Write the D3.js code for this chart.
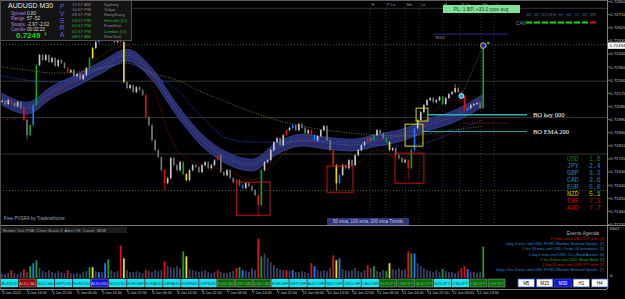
<!DOCTYPE html>
<html>
<head>
<meta charset="utf-8">
<script src="https://cdn.jsdelivr.net/npm/d3@7"></script>
<style>
body { margin: 0; background: #000; }
svg { display: block; font-family: "Liberation Sans", "DejaVu Sans", sans-serif; }
</style>
</head>
<body>
<svg id="chart" width="625" height="299"></svg>
<script>
// ---- data ----
const closes = [
  0.72113, 0.72093, 0.72120, 0.72099, 0.72079, 0.72106, 0.72065, 0.71983, 0.71880, 0.71948,
  0.72086, 0.72360, 0.72429, 0.72395, 0.72429, 0.72381, 0.72409, 0.72354, 0.72395, 0.72374,
  0.72340, 0.72312, 0.72326, 0.72285, 0.72299, 0.72264, 0.72292, 0.72340, 0.72409, 0.72477,
  0.72518, 0.72532, 0.72546, 0.72560, 0.72532, 0.72546, 0.72518, 0.72532, 0.72518, 0.72244,
  0.72202, 0.72223, 0.72175, 0.72209, 0.72189, 0.72154, 0.72003, 0.71948, 0.71845, 0.71777,
  0.71729, 0.71639, 0.71550, 0.71584, 0.71722, 0.71674, 0.71639, 0.71694, 0.71612, 0.71571,
  0.71639, 0.71674, 0.71660, 0.71626, 0.71674, 0.71694, 0.71653, 0.71674, 0.71708, 0.71742,
  0.71626, 0.71605, 0.71639, 0.71584, 0.71557, 0.71571, 0.71536, 0.71516, 0.71550, 0.71529,
  0.71502, 0.71468, 0.71399, 0.71639, 0.71694, 0.71708, 0.71777, 0.71832, 0.71859, 0.71811,
  0.71880, 0.71914, 0.71928, 0.71948, 0.71914, 0.71955, 0.71928, 0.71893, 0.71914, 0.71880,
  0.71845, 0.71873, 0.71914, 0.71941, 0.71845, 0.71777, 0.71674, 0.71550, 0.71605, 0.71674,
  0.71653, 0.71708, 0.71674, 0.71742, 0.71777, 0.71811, 0.71832, 0.71859, 0.71845, 0.71880,
  0.71914, 0.71893, 0.71859, 0.71832, 0.71777, 0.71790, 0.71742, 0.71722, 0.71694, 0.71708,
  0.71653, 0.71777, 0.71928, 0.71983, 0.72038, 0.72086, 0.72120, 0.72134, 0.72106, 0.72120,
  0.72141, 0.72093, 0.72134, 0.72161, 0.72175, 0.72202, 0.72175, 0.72148, 0.72051, 0.72065,
  0.72086, 0.72093, 0.72099, 0.72065, 0.72494
]
const highWicks = [[32, 0.72574], [38, 0.72546], [131, 0.71790], [145, 0.72230], [154, 0.72520]]
const lowWicks = [[8, 0.71845], [52, 0.71502], [82, 0.71317], [107, 0.71502], [130, 0.71570]]

const volumes = [
  520, 520, 650, 1040, 650, 520, 780, 1170, 780, 1560,
  1950, 2340, 1300, 910, 780, 1040, 780, 650, 910, 780,
  650, 1040, 650, 520, 650, 520, 780, 910, 1430, 1430,
  910, 780, 780, 1950, 2470, 1040, 780, 910, 4290, 2600,
  1040, 780, 780, 910, 780, 650, 1040, 910, 780, 1040,
  910, 1040, 2210, 1560, 1430, 1300, 1560, 1300, 3510, 2860,
  1170, 1040, 910, 780, 910, 1040, 780, 650, 780, 1040,
  780, 650, 650, 780, 910, 1300, 1430, 1040, 910, 780,
  1300, 1040, 5200, 2860, 3250, 2600, 2080, 1690, 1300, 1170,
  1040, 1040, 910, 1040, 780, 780, 910, 780, 650, 1950,
  1560, 1040, 910, 1040, 910, 1300, 2990, 2340, 2600, 1170,
  1040, 910, 1040, 1300, 910, 780, 1040, 1690, 1300, 1560,
  910, 780, 1040, 910, 1950, 1170, 1040, 1300, 1040, 1170,
  3510, 3250, 3250, 1950, 1560, 1300, 1040, 910, 780, 1040,
  780, 1170, 910, 780, 780, 650, 910, 1300, 1560, 1170,
  780, 780, 650, 780, 4160
]
const redBars = [3, 7, 21, 38, 46, 52, 69, 75, 82, 91, 99, 106, 117, 130, 147, 148]
const greenBars = [9, 11, 28, 34, 58, 76, 83, 119, 123, 131, 141, 154]
const blueBars = [10, 31, 33, 77, 93, 100, 108, 132, 149]
const yellowBars = [29, 39, 59, 107, 124]

// moving averages sampled every 16 bars (M30 bars)
const maBars = [0, 16, 32, 48, 64, 80, 96, 112, 128, 144, 160, 176, 192, 208, 224, 240, 256, 272, 288, 304, 308]
const ema50Band = [0.72127, 0.72065, 0.72175, 0.72257, 0.72347, 0.72429, 0.72299, 0.72051, 0.71845, 0.71722,
  0.71674, 0.71790, 0.71845, 0.71825, 0.71811, 0.71845, 0.71880, 0.71948, 0.72003, 0.72093, 0.72120]
const emaFast = [0.71983, 0.72017, 0.72154, 0.72271, 0.72429, 0.72498, 0.72223, 0.71777, 0.71674, 0.71639,
  0.71571, 0.71708, 0.71845, 0.71777, 0.71674, 0.71777, 0.71708, 0.71983, 0.72120, 0.72120, 0.72154]
const ema100 = [0.72285, 0.72257, 0.72244, 0.72271, 0.72340, 0.72374, 0.72292, 0.72189, 0.72003, 0.71859,
  0.71832, 0.71832, 0.71838, 0.71838, 0.71838, 0.71811, 0.71804, 0.71832, 0.71893, 0.71969, 0.71983]
const ema200 = [0.72347, 0.72326, 0.72306, 0.72312, 0.72340, 0.72374, 0.72306, 0.72257, 0.72175, 0.72106,
  0.72038, 0.71983, 0.71941, 0.71914, 0.71893, 0.71880, 0.71873, 0.71887, 0.71914, 0.71935, 0.71941]

const priceTicks = [0.72800, 0.72710, 0.72620, 0.72530, 0.72440, 0.72350, 0.72260, 0.72170, 0.72080,
  0.71990, 0.71900, 0.71810, 0.71720, 0.71630, 0.71540, 0.71450, 0.71360, 0.71270]
const timeLabels = ["4 Jan 2022", "4 Jan 14:00", "4 Jan 22:00", "5 Jan 06:00", "5 Jan 14:00", "5 Jan 22:00",
  "6 Jan 06:00", "6 Jan 14:00", "6 Jan 22:00", "7 Jan 06:00", "7 Jan 14:00", "7 Jan 22:00",
  "10 Jan 06:00", "10 Jan 14:00", "10 Jan 22:00", "11 Jan 06:00", "11 Jan 14:00", "11 Jan 22:00",
  "12 Jan 06:00", "12 Jan 14:00"]
const gridLevels = [0.7275, 0.7225, 0.7200, 0.7175]
const roundLevels = [0.7250, 0.7150]

const pairs = ["AUDNZD", "AUDCAD", "NZDCAD", "GBPUSD", "EURUSD", "AUDUSD", "NZDUSD", "EURGBP", "EURAUD", "GBPAUD",
  "EURNZD", "GBPNZD", "EURCAD", "GBPCAD", "USDCAD", "EURCHF", "GBPCHF", "AUDCHF", "NZDCHF", "USDCHF",
  "CADCHF", "EURJPY", "GBPJPY", "AUDJPY", "NZDJPY", "USDJPY", "CADJPY", "CHFJPY"]
const pairState = ["n", "r", "n", "n", "n", "a", "n", "n", "n", "n", "n", "n", "g", "g", "g", "n", "n", "n", "n", "n",
  "n", "g", "g", "g", "n", "n", "g", "g"]
const timeframes = ["M5", "M15", "M30", "H1", "H4"]

const currencies = ["USD", "JPY", "GBP", "CAD", "EUR", "NZD", "CHF", "AUD"]
const strength = [1.6, 2.4, 3.3, 3.6, 5.0, 5.1, 7.3, 7.7]

const events = [
  "27 mins since USD: CPI m/m",
  "1day 3 mins until USD: FOMC Member Brainard Speaks",
  "1 hrs 33 mins until USD: Crude Oil Inventories",
  "1 day 4 mins until USD: 10-y Bond Auction",
  "5 hrs 3 mins until USD: Beige Book",
  "1 day 33 mins until USD: PPI m/m",
  "1days 1hrs 3 mins until USD: FOMC Member Brainard Speaks"
]
const eventColors = ["#d01818", "#2a8ad0", "#2a8ad0", "#2a8ad0", "#20b020", "#d01818", "#2a8ad0"]

const sessions = [
  ["Sydney", "12:57 AM"], ["Tokyo", "10:57 PM"], ["HongKong", "09:57 PM"], ["Helsinki (O)", "03:57 PM"],
  ["Frankfurt", "02:57 PM"], ["London (O)", "01:57 PM"], ["NewYork", "08:57 AM"]
]
const sessionMarks = [[235.5, "H"], [245.5, "P Lo"], [258, "Mo"], [267, "Lo"], [282, "H"], [293, "P Up"], [306.5, "Mo"], [315, "Lo"]]

// ---- layout ----
const svg = d3.select("#chart")
const plotRight = 607
const mainBottom = 224
const volTop = 228, volBottom = 278
const axisY = 289

svg.append("rect").attr("width", 625).attr("height", 299).attr("fill", "#000")

const x = d3.scaleLinear().domain([0, 304]).range([2, 477])
const y = d3.scaleLinear().domain([0.71270, 0.72800]).range([mainBottom, 1])
const yVol = d3.scaleLinear().domain([0, 6607]).range([volBottom, volTop])

svg.append("clipPath").attr("id", "mainClip")
  .append("rect").attr("x", 0).attr("y", 0).attr("width", plotRight).attr("height", mainBottom + 1)

const main = svg.append("g").attr("clip-path", "url(#mainClip)")

// horizontal levels
main.selectAll(".grid").data(gridLevels).join("line")
  .attr("x1", 0).attr("x2", plotRight)
  .attr("y1", d => y(d)).attr("y2", d => y(d))
  .attr("stroke", "#353535").attr("stroke-width", 1)
main.selectAll(".round").data(roundLevels).join("line")
  .attr("x1", 0).attr("x2", plotRight)
  .attr("y1", d => y(d)).attr("y2", d => y(d))
  .attr("stroke", "#1f6a1f").attr("stroke-width", 1).attr("stroke-dasharray", "1,2")

// EMA band
const maPts = arr => maBars.map((b, i) => [b, arr[i]])
const bandHalf = 0.0004
const band = d3.area().curve(d3.curveMonotoneX)
  .x(d => x(d[0])).y0(d => y(d[1] - bandHalf)).y1(d => y(d[1] + bandHalf))
main.append("path").datum(maPts(ema50Band)).attr("d", band)
  .attr("fill", "#272d6e").attr("stroke", "#3c4596").attr("stroke-width", 0.8)
const lineGen = d3.line().curve(d3.curveMonotoneX).x(d => x(d[0])).y(d => y(d[1]))
main.append("path").datum(maPts(ema50Band)).attr("d", lineGen)
  .attr("fill", "none").attr("stroke", "#7a80b0").attr("stroke-width", 0.6).attr("stroke-dasharray", "1,1.5")
main.append("path").datum(maPts(ema50Band).map(d => [d[0], d[1] + 0.00016])).attr("d", lineGen)
  .attr("fill", "none").attr("stroke", "#5a6098").attr("stroke-width", 0.5).attr("stroke-dasharray", "1,1.5")

main.append("path").datum(maPts(ema200)).attr("d", lineGen)
  .attr("fill", "none").attr("stroke", "#8a8a30").attr("stroke-width", 0.8).attr("stroke-dasharray", "1,1.5")
main.append("path").datum(maPts(ema100)).attr("d", lineGen)
  .attr("fill", "none").attr("stroke", "#2a50e0").attr("stroke-width", 0.9).attr("stroke-dasharray", "1,1.5")
main.append("path").datum(maPts(emaFast)).attr("d", lineGen)
  .attr("fill", "none").attr("stroke", "#b01818").attr("stroke-width", 0.8).attr("stroke-dasharray", "1,1.5")

// session lines at the top
main.selectAll(".sess").data(sessionMarks).join("line")
  .attr("x1", d => x(d[0])).attr("x2", d => x(d[0]))
  .attr("y1", 0).attr("y2", mainBottom)
  .attr("stroke", "#505050").attr("stroke-width", 0.6).attr("stroke-dasharray", "1,2")
main.selectAll(".sessLbl").data(sessionMarks).join("text")
  .attr("x", d => x(d[0]) + 1.5).attr("y", 5.5)
  .attr("font-size", 4).attr("fill", "#9a9a9a").text(d => d[1])

// candles
const candleColor = (k, up) => {
  if (redBars.includes(k)) return "#e01010"
  if (greenBars.includes(k)) return "#10a030"
  if (blueBars.includes(k)) return "#1e78ff"
  if (yellowBars.includes(k)) return "#e8e010"
  return up ? "#c8c8c8" : "#767676"
}
const candles = closes.map((c, k) => {
  const o = k > 0 ? closes[k - 1] : c
  let hi = Math.max(o, c) + 0.00008
  let lo = Math.min(o, c) - 0.00008
  highWicks.forEach(w => { if (w[0] === k) hi = w[1] })
  lowWicks.forEach(w => { if (w[0] === k) lo = w[1] })
  return { k, o, c, hi, lo, col: candleColor(k, c >= o) }
})
const cg = main.append("g")
cg.selectAll("line").data(candles).join("line")
  .attr("x1", d => x(d.k * 2)).attr("x2", d => x(d.k * 2))
  .attr("y1", d => y(d.hi)).attr("y2", d => y(d.lo))
  .attr("stroke", d => d.col).attr("stroke-width", 0.6)
cg.selectAll("rect").data(candles).join("rect")
  .attr("x", d => x(d.k * 2) - 0.8).attr("width", 1.6)
  .attr("y", d => y(Math.max(d.o, d.c)))
  .attr("height", d => Math.max(0.8, Math.abs(y(d.o) - y(d.c))))
  .attr("fill", d => d.col)

// boxes
const boxes = [
  [150, 171.5, 0.71557, 0.71330, "#c81010"],
  [208, 224.6, 0.71667, 0.71488, "#c81010"],
  [251.5, 270, 0.71756, 0.71550, "#c81010"],
  [258, 269.4, 0.71955, 0.71804, "#d8d010"],
  [265, 272.6, 0.72065, 0.71976, "#d8d010"]
]
main.selectAll(".box").data(boxes).join("rect")
  .attr("x", d => x(d[0])).attr("width", d => x(d[1]) - x(d[0]))
  .attr("y", d => y(d[2])).attr("height", d => y(d[3]) - y(d[2]))
  .attr("fill", "none").attr("stroke", d => d[4]).attr("stroke-width", 1)

// breakout lines
main.append("line").attr("x1", x(272)).attr("x2", x(336)).attr("y1", y(0.72020)).attr("y2", y(0.72020))
  .attr("stroke", "#30b0b0").attr("stroke-width", 1.6)
main.append("line").attr("x1", x(269)).attr("x2", x(336)).attr("y1", y(0.71904)).attr("y2", y(0.71904))
  .attr("stroke", "#40d0e0").attr("stroke-width", 0.8)
main.append("text").attr("x", 533).attr("y", y(0.72020) + 2.3).style("font-size", "6.5px")
  .style("font-family", "'Liberation Serif', 'DejaVu Serif', serif").attr("fill", "#fff").text("BO key 000")
main.append("text").attr("x", 533).attr("y", y(0.71904) + 2.3).style("font-size", "6.5px")
  .style("font-family", "'Liberation Serif', 'DejaVu Serif', serif").attr("fill", "#fff").text("BO EMA 200")
main.append("line").attr("x1", x(276)).attr("x2", x(324)).attr("y1", y(0.72573)).attr("y2", y(0.72573))
  .attr("stroke", "#2a2c90").attr("stroke-width", 1)
main.append("text").attr("x", x(276) + 2).attr("y", y(0.72573) + 5).attr("font-size", 4).attr("fill", "#9090a0").text("R004")
main.append("line").attr("x1", x(295)).attr("x2", x(324)).attr("y1", y(0.71962)).attr("y2", y(0.71962))
  .attr("stroke", "#5a1818").attr("stroke-width", 0.8)

// trade marker
main.append("line").attr("x1", x(294)).attr("y1", y(0.72148)).attr("x2", x(308)).attr("y2", y(0.72494))
  .attr("stroke", "#2a8080").attr("stroke-width", 0.7).attr("stroke-dasharray", "1,1")
main.append("circle").attr("cx", x(294)).attr("cy", y(0.72148)).attr("r", 2.5)
  .attr("fill", "#20a0e0").attr("stroke", "#e0f8ff").attr("stroke-width", 0.8)
main.append("circle").attr("cx", x(308)).attr("cy", y(0.72494)).attr("r", 2.8)
  .attr("fill", "#1030d0").attr("stroke", "#e0c020").attr("stroke-width", 1)
main.append("rect").attr("x", x(308) + 4).attr("y", y(0.72494) - 3.5).attr("width", 2).attr("height", 2).attr("fill", "#20e020")

// PL box
svg.append("rect").attr("x", 443).attr("y", 5).attr("width", 77).attr("height", 8).attr("fill", "#7fe09a")
svg.append("text").attr("x", 481).attr("y", 11).attr("text-anchor", "middle").attr("font-size", 5).attr("fill", "#1a4a2a")
  .text("PL: 1 BP, +33.0 pips avg")

// timeframe trend dashes
const tfTop = ["M1", "M5", "M15", "M30", "H1", "H4", "D1", "W1", "MN"]
const tfState = ["g", "g", "g", "g", "g", "g", "g", "g", "r"]
const tfX = d3.scaleBand().domain(d3.range(tfTop.length)).range([526, 596]).paddingInner(0.25)
svg.selectAll(".tfl").data(tfTop).join("text")
  .attr("x", (d, i) => tfX(i) + tfX.bandwidth() / 2).attr("y", 16).attr("text-anchor", "middle")
  .attr("font-size", 3.8).attr("fill", "#4a6a90").text(d => d)
svg.selectAll(".tfd").data(tfState).join("rect")
  .attr("x", (d, i) => tfX(i)).attr("y", 21.5).attr("width", tfX.bandwidth()).attr("height", 2)
  .attr("fill", d => d === "g" ? "#10e010" : "#e01010")
svg.append("text").attr("x", 516).attr("y", 24.5).attr("font-size", 4.5).attr("fill", "#8a8a9a").text("CAN")

// currency strength
const csColors = ["#108010", "#1a80d0", "#1a80d0", "#1a80d0", "#1a80d0", "#c8c810", "#c01010", "#c01010"]
const cs = svg.append("g")
currencies.forEach((c, i) => {
  cs.append("text").attr("x", 567).attr("y", 160.5 + i * 7).attr("fill", csColors[i])
    .style("font-family", "'Liberation Mono', 'DejaVu Sans Mono', monospace").style("font-size", "6.5px").text(c)
  cs.append("text").attr("x", 589).attr("y", 160.5 + i * 7).attr("fill", csColors[i])
    .style("font-family", "'Liberation Mono', 'DejaVu Sans Mono', monospace").style("font-size", "6.5px").text(strength[i].toFixed(1))
})

// labels in main window
svg.append("text").attr("x", 4).attr("y", 220).attr("font-size", 4.5).attr("fill", "#9aa0b8").text("Free PVSRA by Traderathome")
svg.append("rect").attr("x", 327).attr("y", 218).attr("width", 82).attr("height", 7).attr("fill", "#2e3578")
svg.append("text").attr("x", 368).attr("y", 223.3).attr("text-anchor", "middle").attr("font-size", 4.5)
  .attr("fill", "#c8c8e0").text("50 ema, 100 ema, 200 ema Trends")

// info panel
const info = svg.append("g")
info.append("rect").attr("x", 0.5).attr("y", 0.5).attr("width", 131).attr("height", 40)
  .attr("fill", "#141414").attr("stroke", "#505050").attr("stroke-width", 1)
info.append("text").attr("x", 8).attr("y", 8).attr("font-size", 7).attr("fill", "#e8e8e8").text("AUDUSD   M30")
const infoRows = [["Spread", "0.80"], ["Range", "57  -52"], ["Swaps", "-2.97  -2.02"], ["Candle", "00:02:23"]]
infoRows.forEach((r, i) => {
  info.append("text").attr("x", 11).attr("y", 15 + i * 5.3).attr("font-size", 4.6).attr("fill", "#b07ad8").text(r[0])
  info.append("text").attr("x", 27).attr("y", 15 + i * 5.3).attr("font-size", 4.6).attr("fill", "#d8d8d8").text(r[1])
})
info.append("text").attr("x", 16).attr("y", 38).attr("font-size", 8).attr("font-weight", "bold").attr("fill", "#20d020").text("0.7249")
info.append("text").attr("x", 44).attr("y", 36).attr("font-size", 4.5).attr("fill", "#20d020").text("4")
"PVSRA".split("").forEach((ch, i) => {
  info.append("text").attr("x", 62).attr("y", 9 + i * 7).attr("text-anchor", "middle").attr("font-size", 7)
    .attr("fill", "#6a5ad8").text(ch)
})
const sessColors = ["#8a8a8a", "#8a8a8a", "#8a8a8a", "#30b030", "#8a8a8a", "#30b030", "#8a8a8a"]
sessions.forEach((s, i) => {
  info.append("text").attr("x", 72).attr("y", 5.5 + i * 5.4).attr("font-size", 4.4).attr("fill", i > 2 ? "#30b030" : "#8a8a8a").text(s[1])
  info.append("text").attr("x", 104).attr("y", 5.5 + i * 5.4).attr("font-size", 4.4).attr("fill", sessColors[i]).text(s[0])
})

// right price axis
svg.append("line").attr("x1", plotRight + 0.5).attr("x2", plotRight + 0.5).attr("y1", 0).attr("y2", axisY)
  .attr("stroke", "#808080").attr("stroke-width", 1)
svg.append("line").attr("x1", 0).attr("x2", plotRight).attr("y1", 0.5).attr("y2", 0.5).attr("stroke", "#606060")
const yAxis = svg.append("g").attr("transform", `translate(${plotRight + 0.5},0)`)
  .call(d3.axisRight(y).tickValues(priceTicks).tickFormat(d3.format(".5f")).tickSize(2))
yAxis.select(".domain").remove()
yAxis.selectAll("line").attr("stroke", "#808080")
yAxis.selectAll("text").attr("font-size", 4.4).attr("fill", "#c0c0c0").attr("x", 2.5)
svg.append("rect").attr("x", plotRight + 1).attr("y", y(0.72494) - 3.2).attr("width", 17).attr("height", 6.4).attr("fill", "#fff")
svg.append("text").attr("x", plotRight + 2.5).attr("y", y(0.72494) + 1.6).attr("font-size", 4.4).attr("fill", "#000").text("0.72494")

// window separators
svg.append("line").attr("x1", 0).attr("x2", 625).attr("y1", 225.5).attr("y2", 225.5).attr("stroke", "#808080")
svg.append("line").attr("x1", 0.5).attr("x2", 0.5).attr("y1", 0).attr("y2", axisY).attr("stroke", "#505050")

// volume sub-window
const vg = svg.append("g")
vg.selectAll("rect").data(volumes).join("rect")
  .attr("x", (d, k) => x(k * 2) - 0.9).attr("width", 1.8)
  .attr("y", d => yVol(d)).attr("height", d => volBottom - yVol(d))
  .attr("fill", (d, k) => {
    const c = candleColor(k, true)
    return (c === "#c8c8c8") ? "#3a4264" : c
  })
svg.append("rect").attr("x", 1).attr("y", 227).attr("width", 126).attr("height", 6).attr("fill", "#1c1c1c")
svg.append("text").attr("x", 3).attr("y", 231.8).attr("font-size", 4.3).attr("fill", "#a0a0a0")
  .text("Broker Tick PVA:   Chart Scale 2,  Alert Off,  Count: 3838")
svg.append("text").attr("x", plotRight + 3).attr("y", 230).attr("font-size", 4.4).attr("fill", "#c0c0c0").text("6607")
svg.append("text").attr("x", plotRight + 3).attr("y", 277).attr("font-size", 4.4).attr("fill", "#c0c0c0").text("0")

// events agenda
svg.append("text").attr("x", 599).attr("y", 234.5).attr("text-anchor", "end").attr("font-size", 4.8).attr("fill", "#b0b0b0").text("Events Agenda")
events.forEach((e, i) => {
  svg.append("text").attr("x", 598).attr("y", 240 + i * 5.2).attr("text-anchor", "end").attr("font-size", 3.7)
    .attr("fill", eventColors[i]).text(e)
  svg.append("text").attr("x", 600).attr("y", 240 + i * 5.2).attr("font-size", 3.7)
    .attr("fill", eventColors[i]).text(`[${i + 1}]`)
})

// pair buttons
const pairFill = { n: "#10e8f0", r: "#8a0a0a", g: "#0a6a0a", a: "#1010e0" }
const pairText = { n: "#0a4a6a", r: "#e8a0a0", g: "#60b060", a: "#c0c0ff" }
const pb = d3.scaleBand().domain(pairs).range([1, 505]).paddingInner(0.06)
svg.selectAll(".pb").data(pairs).join("rect")
  .attr("x", d => pb(d)).attr("y", 279).attr("width", pb.bandwidth()).attr("height", 8)
  .attr("fill", (d, i) => pairFill[pairState[i]]).attr("stroke", "#c0c0c0").attr("stroke-width", 0.4)
svg.selectAll(".pbt").data(pairs).join("text")
  .attr("x", d => pb(d) + pb.bandwidth() / 2).attr("y", 284.6).attr("text-anchor", "middle")
  .attr("font-size", 4).attr("fill", (d, i) => pairText[pairState[i]]).text(d => d)

const tb = d3.scaleBand().domain(timeframes).range([518, 608]).paddingInner(0.1)
svg.selectAll(".tb").data(timeframes).join("rect")
  .attr("x", d => tb(d)).attr("y", 279).attr("width", tb.bandwidth()).attr("height", 8)
  .attr("fill", d => d === "M30" ? "#1010e8" : "#ffffff").attr("stroke", "#3050c0").attr("stroke-width", 0.8)
svg.selectAll(".tbt").data(timeframes).join("text")
  .attr("x", d => tb(d) + tb.bandwidth() / 2).attr("y", 284.8).attr("text-anchor", "middle")
  .attr("font-size", 4.5).attr("fill", d => d === "M30" ? "#fff" : "#000").text(d => d)

// time axis
svg.append("line").attr("x1", 0).attr("x2", plotRight).attr("y1", axisY + 0.5).attr("y2", axisY + 0.5).attr("stroke", "#808080")
const xAxis = svg.append("g").attr("transform", `translate(0,${axisY + 0.5})`)
  .call(d3.axisBottom(x).tickValues(d3.range(0, 305, 16)).tickFormat((d, i) => timeLabels[i]).tickSize(2))
xAxis.select(".domain").remove()
xAxis.selectAll("line").attr("stroke", "#808080")
xAxis.selectAll("text").attr("font-size", 3.7).attr("fill", "#c0c0c0").attr("text-anchor", "start").attr("dy", "0.4em").attr("y", 3)
</script>
</body>
</html>
